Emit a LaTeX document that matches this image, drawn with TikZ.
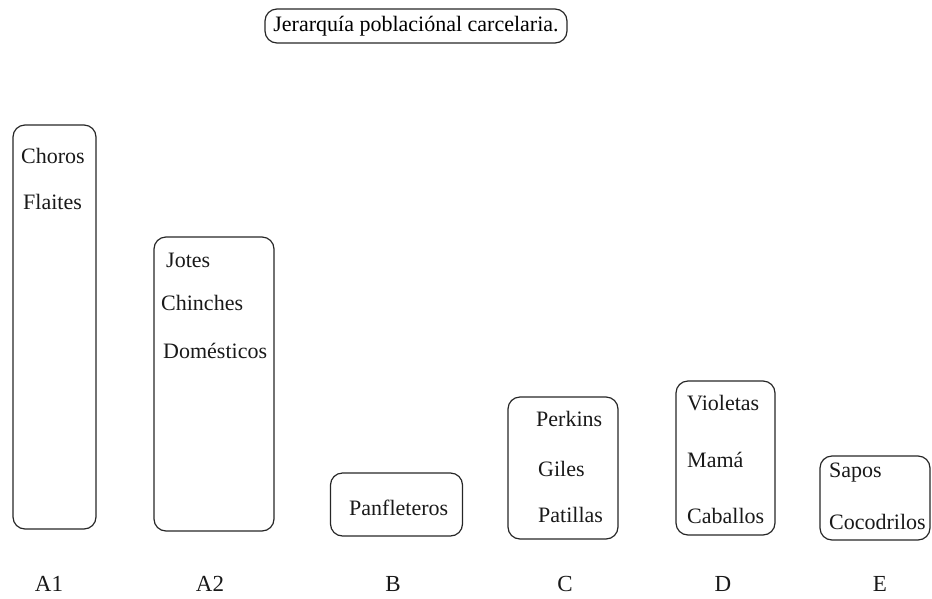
\documentclass[tikz,border=0pt]{standalone}
\usepackage{fontspec}
\setmainfont{Liberation Serif}
\begin{document}
\begin{tikzpicture}[x=1pt,y=-1pt,
  box/.style={draw=black!85, line width=1.2pt, rounded corners=12pt, rectangle, inner sep=0pt},
  txt/.style={inner sep=0pt, anchor=base west, font=\fontsize{22}{26}\selectfont, text=black!90},
  lab/.style={inner sep=0pt, anchor=base, font=\fontsize{23}{27}\selectfont, text=black!90}]
\useasboundingbox (0,0) rectangle (932,598);
% title
\node[box, minimum width=302pt, minimum height=34pt, font=\fontsize{22}{26}\selectfont] (title) at (416,26) {Jerarquía poblaciónal carcelaria.};
% boxes
\node[box, minimum width=83pt, minimum height=404pt] (A1) at (54.5,327) {};
\node[box, minimum width=120pt, minimum height=294pt] (A2) at (214,384) {};
\node[box, minimum width=132pt, minimum height=63pt] (B) at (396.5,504.5) {};
\node[box, minimum width=110pt, minimum height=142pt] (C) at (563,468) {};
\node[box, minimum width=99pt, minimum height=154pt] (D) at (725.5,458) {};
\node[box, minimum width=110pt, minimum height=84pt] (E) at (875,498) {};
% contents
\node[txt] (choros) at (21,163) {Choros};
\node[txt] (flaites) at (23,209) {Flaites};
\node[txt] (jotes) at (166,267) {Jotes};
\node[txt] (chinches) at (161,310) {Chinches};
\node[txt] (domesticos) at (163,358) {Domésticos};
\node[txt] (panf) at (349,515) {Panfleteros};
\node[txt] (perkins) at (536,426) {Perkins};
\node[txt] (giles) at (538,476) {Giles};
\node[txt] (patillas) at (538,522) {Patillas};
\node[txt] (violetas) at (687,410) {Violetas};
\node[txt] (mama) at (687,467) {Mamá};
\node[txt] (caballos) at (687,523) {Caballos};
\node[txt] (sapos) at (829,477) {Sapos};
\node[txt] (cocodrilos) at (829,529) {Cocodrilos};
% labels
\node[lab] (lA1) at (49,591) {A1};
\node[lab] (lA2) at (210,591) {A2};
\node[lab] (lB) at (393,591) {B};
\node[lab] (lC) at (565,591) {C};
\node[lab] (lD) at (723,591) {D};
\node[lab] (lE) at (880,591) {E};
\end{tikzpicture}
\end{document}
